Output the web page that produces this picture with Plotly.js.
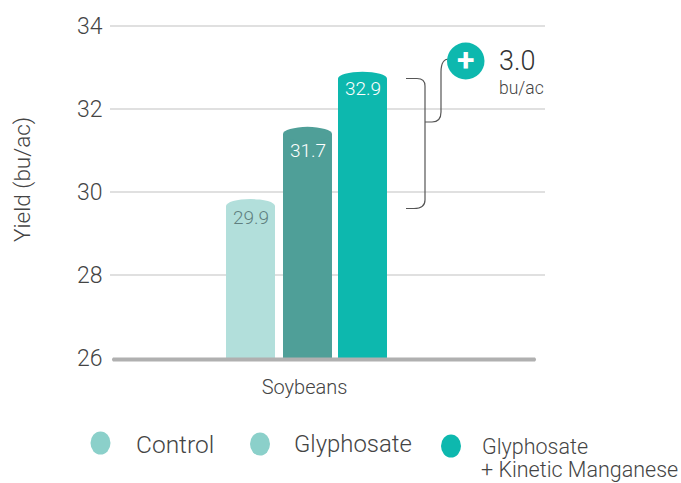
<!DOCTYPE html>
<html><head><meta charset="utf-8">
<script src="https://cdn.plot.ly/plotly-3.0.1.min.js"></script>
<style>html,body{margin:0;padding:0;background:#fff}</style>
</head><body><div id="c" style="width:681px;height:483px"></div>
<script>
const category = ['Soybeans'];
const seriesNames = ['Control', 'Glyphosate', 'Glyphosate + Kinetic Manganese'];
const barLabels = ['29.9', '31.7', '32.9'];
const drawnTops = [29.83, 31.57, 32.9];
const barColors = ['#b2dfdb', '#4f9f98', '#0db8ae'];
const legendColors = ['#8bd0ca', '#8bd0ca', '#0db8ae'];
const labelColors = ['#5f7f80', '#ffffff', '#ffffff'];
const labelDrop = [18, 24, 17];
const barLefts = [226, 283, 338];
const yTicks = [26, 28, 30, 32, 34];

const W = 681, H = 483, L = 110, R = 545, T = 24, B = 358;
const px = x => (x - L) / (R - L);
const py = y => (B - y) / (B - T);
const family = 'Roboto, sans-serif';
const text = '#444444';
const unit = 210, centre = 304.5, barW = 49;
const capH = 0.17; // half-height of the elliptical bar cap, in axis units

const traces = seriesNames.map((n, i) => ({
  type: 'bar', name: n, x: category, y: [drawnTops[i] - capH - 26], base: 26,
  width: barW / unit, offset: (barLefts[i] - centre) / unit,
  marker: {color: barColors[i], line: {width: 0}}, hoverinfo: 'skip'
}));

const shapes = [];
drawnTops.forEach((v, i) => {
  shapes.push({type: 'circle', xref: 'paper', yref: 'y', layer: 'above',
    x0: px(barLefts[i]), x1: px(barLefts[i] + barW), y0: v - 2 * capH, y1: v,
    fillcolor: barColors[i], line: {width: 0}});
});
const P = (x, y) => px(x).toFixed(5) + ',' + py(y).toFixed(5);
shapes.push({type: 'path', xref: 'paper', yref: 'paper', layer: 'above',
  path: `M${P(113,357.5)} L${P(535,357.5)} Q${P(537,359.5)} ${P(535,361.5)} L${P(113,361.5)} Q${P(111,359.5)} ${P(113,357.5)} Z`,
  fillcolor: '#b0b0b0', line: {width: 0}});
shapes.push({type: 'path', xref: 'paper', yref: 'paper',
  path: `M${P(406,78.5)} L${P(417,78.5)} Q${P(425,78.5)} ${P(425,86)} L${P(425,200)} Q${P(425,208.5)} ${P(414,208.5)} L${P(406,208.5)}`,
  line: {color: '#555555', width: 1.2}});
shapes.push({type: 'path', xref: 'paper', yref: 'paper',
  path: `M${P(425,122)} L${P(432,122)} Q${P(441,122)} ${P(441,112)} L${P(441,72)} Q${P(441,59)} ${P(449,59)}`,
  line: {color: '#555555', width: 1.2}});
shapes.push({type: 'circle', xref: 'paper', yref: 'paper', layer: 'above',
  x0: px(447), x1: px(484.5), y0: py(79.5), y1: py(42.5), fillcolor: '#0db8ae', line: {width: 0}});
[[100.5, 443], [260, 444], [451, 446]].forEach((c, i) => {
  shapes.push({type: 'circle', xref: 'paper', yref: 'paper',
    x0: px(c[0] - 10), x1: px(c[0] + 10), y0: py(c[1] + 11.5), y1: py(c[1] - 11.5),
    fillcolor: legendColors[i], line: {width: 0}});
});

const note = (t, x, y, size, extra) => Object.assign({text: t, xref: 'paper', yref: 'paper',
  x: px(x), y: py(y), showarrow: false, xanchor: 'left', yanchor: 'middle',
  font: {family: family, size: size, color: text, weight: 300}}, extra || {});

const annotations = [
  note('Yield (bu/ac)', 22, 180, 22.5, {xanchor: 'center', textangle: -90}),
  note('+', 465.5, 60.5, 32, {xanchor: 'center', font: {family: family, size: 32, color: '#ffffff', weight: 700}}),
  note('3.0', 497, 61, 27, {font: {family: family, size: 27, color: '#333333', weight: 300}}),
  note('bu/ac', 497, 88, 17.5),
  note('Control', 134, 444, 24.5),
  note('Glyphosate', 292, 444, 23.9),
  note('Glyphosate', 480, 446.5, 21.5),
  note('+ Kinetic Manganese', 479, 469.5, 21.5)
];
barLabels.forEach((t, i) => {
  annotations.push({text: t, xref: 'paper', yref: 'y', x: px(barLefts[i] + barW / 2), y: drawnTops[i],
    yshift: -labelDrop[i], showarrow: false, xanchor: 'center', yanchor: 'middle',
    font: {family: family, size: 19, color: labelColors[i], weight: 300}});
});

Plotly.newPlot('c', traces, {
  width: W, height: H, showlegend: false, paper_bgcolor: '#fff', plot_bgcolor: '#fff',
  margin: {l: L, r: W - R, t: T, b: H - B, pad: 0},
  barmode: 'overlay',
  xaxis: {type: 'category', range: [(L - centre) / unit, (R - centre) / unit], showgrid: false, zeroline: false,
    showline: false, ticks: 'outside', ticklen: 11, tickcolor: 'rgba(0,0,0,0)',
    tickfont: {family: family, size: 20, color: text, weight: 300}},
  yaxis: {range: [26, 26 + (B - T) / 41.5], tickvals: yTicks, showgrid: true, gridcolor: '#e0e0e0', gridwidth: 1.5, zeroline: false,
    showline: false, ticks: 'outside', ticklen: 2, tickcolor: 'rgba(0,0,0,0)',
    tickfont: {family: family, size: 23, color: text, weight: 300}},
  shapes, annotations
}, {displayModeBar: false, staticPlot: true});
</script></body></html>
